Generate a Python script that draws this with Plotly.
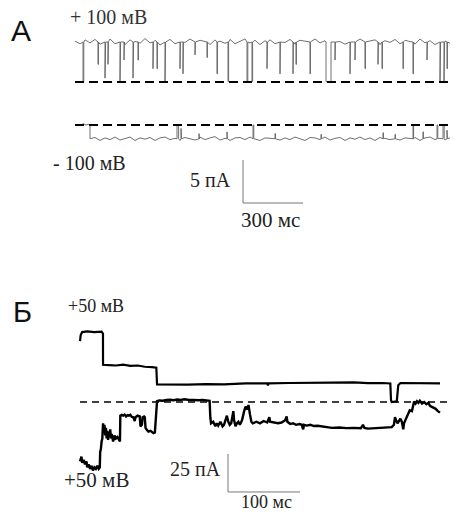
import plotly.graph_objects as go

W, H = 457, 515

# ---------------- Panel A data (ms, pA) ----------------
a_plus_open = 4.65          # open level at +100 mV (pA, above closed)
a_plus_t0, a_plus_step = 0, 25
a_plus_noise = [0.1, -0.2, 0.25, -0.1, 0.3, -0.25, 0.15, 0.35, -0.2, 0.1, -0.3, 0.25, 0.05, -0.15,
                0.4, -0.1, 0.2, -0.35, 0.1, 0.3, -0.2, 0.15, -0.05, 0.35, -0.25, 0.2, 0.0, -0.3,
                0.25, 0.1, -0.15, 0.3, -0.2, 0.05, 0.35, -0.1, 0.2, -0.3, 0.15, 0.25, -0.2, 0.1,
                -0.05, 0.3, -0.25, 0.2, 0.1, -0.3, 0.35, -0.1, 0.15, -0.2, 0.3, 0.05, -0.25, 0.2,
                -0.1, 0.35, -0.15, 0.1, 0.25, -0.3, 0.15, -0.05, 0.3, -0.2, 0.2, 0.05, -0.25, 0.35,
                -0.1, 0.15, -0.3, 0.2, 0.1, -0.15]
# closures: time (ms), depth (pA), duration (ms)
a_plus_close_t = [40, 115, 150, 165, 225, 245, 290, 315, 390, 410, 450, 525, 540, 600, 660, 710,
                  765, 860, 885, 960, 1025, 1090, 1105, 1175, 1255, 1300, 1375, 1400, 1450, 1515,
                  1535, 1640, 1690, 1760, 1825, 1845, 1860]
a_plus_close_d = [4.6, 2.6, 4.2, 2.6, 4.6, 2.1, 4.2, 2.1, 3.1, 3.1, 4.6, 3.1, 3.7, 1.5, 1.8, 3.7,
                  4.6, 4.6, 4.6, 3.1, 3.7, 3.7, 2.6, 3.7, 4.6, 2.1, 3.7, 2.1, 3.1, 2.6,
                  3.1, 3.1, 3.7, 2.1, 4.6, 4.6, 3.1]
a_plus_close_w = [4, 2, 3, 2, 3, 2, 3, 2, 2, 2, 3, 2, 2, 2, 2, 2,
                  3, 4, 3, 2, 2, 2, 2, 2, 25, 2, 2, 2, 2, 2,
                  2, 2, 2, 2, 3, 3, 2]

a_minus_open = -1.6
a_minus_pre_t = [10, 25, 40, 55, 70, 75]
a_minus_pre_i = [0.1, -0.1, 0.15, 0.0, 0.1, 0.0]
a_minus_t0, a_minus_step = 75, 25
a_minus_noise = [0.0, 0.15, -0.2, 0.1, -0.1, 0.2, -0.15, 0.05, 0.2, -0.2, 0.1, -0.05, 0.15, -0.2,
                 0.1, 0.2, -0.1, 0.05, -0.2, 0.15, 0.0, -0.15, 0.2, -0.1, 0.1, 0.25, -0.15, 0.05,
                 -0.2, 0.1, 0.15, -0.1, 0.2, -0.05, -0.2, 0.1, 0.05, 0.2, -0.15, 0.1, -0.1, 0.2,
                 0.0, -0.2, 0.15, 0.1, -0.1, 0.2, -0.15, 0.05, 0.15, -0.2, 0.1, -0.05, 0.2, -0.1,
                 0.1, -0.2, 0.15, 0.05, -0.1, 0.2, -0.15, 0.1, 0.0, 0.15, -0.2, 0.1, 0.2, -0.1,
                 0.05, -0.15, 0.1]
a_minus_close_t = [510, 530, 620, 760, 890, 1000, 1230, 1540, 1600, 1690, 1740, 1810, 1840, 1860]
a_minus_close_d = [1.6, 1.2, 0.6, 0.8, 1.6, 0.6, 0.5, 0.7, 0.5, 1.6, 0.8, 1.6, 1.6, 1.0]
a_minus_close_w = [8, 3, 2, 2, 4, 2, 2, 2, 2, 3, 2, 4, 6, 2]

a_base_t = [0, 1875]
a_scale_t, a_scale_i = 300, 5      # ms, pA

# ---------------- Panel B data (ms, pA) ----------------
b_up_t = [0, 1, 3, 10, 20, 30, 31.9, 32, 40, 50, 60, 70, 80, 90, 100, 106, 107, 130, 150, 175, 200,
          230, 260, 261, 262, 290, 320, 350, 380, 400, 420, 431, 432, 433, 440, 441, 442, 445, 460,
          480, 500]
b_up_i = [40, 44, 46, 46.5, 46, 46.3, 45, 24.5, 24.3, 24, 24.6, 23.8, 24, 23.2, 23, 22.6, 11.5, 11.3,
          11.4, 11.8, 11.6, 12.2, 12.3, 11, 12.3, 12.5, 12.8, 12.7, 12.9, 12.4, 12.5, 12.2, 1, 0,
          0.5, 6, 11, 12.5, 12.5, 12.6, 12.3]

b_lo_t = [0, 2, 3, 5, 7, 9, 10, 12, 14, 16, 18, 20, 22, 24, 26, 27.5, 28, 29, 30, 31, 32, 33, 34, 35,
          36, 37, 38, 39, 40, 41, 42, 43, 44, 45, 46, 48, 50, 52, 54, 55.5, 56, 58, 60, 62, 64, 66,
          68, 70, 72, 74, 76, 77, 80, 83, 84, 86, 87, 89, 90, 91, 93, 95, 98, 100, 102, 104, 105,
          106, 107, 110, 115, 120, 125, 130, 135, 140, 145, 150, 155, 160, 165, 170, 175, 180, 181,
          182, 185, 188, 190, 192, 195, 198, 200, 202, 204, 206, 208, 210, 212, 213, 214, 216, 218,
          220, 222, 225, 228, 230, 232, 234, 236, 238, 240, 245, 250, 255, 260, 263, 264, 270, 275,
          280, 285, 287, 288, 292, 296, 300, 305, 308, 310, 311, 315, 320, 325, 330, 335, 340, 350,
          360, 370, 380, 390, 393, 395, 400, 410, 420, 430, 433, 436, 437.5, 439, 441, 443, 445,
          447, 449, 450, 453, 456, 458, 461, 463, 464, 466, 468, 470, 472, 475, 478, 481, 484, 486,
          490, 494, 497, 500]
b_lo_i = [-39, -36, -40, -38, -41, -39, -43, -41, -44, -42, -45, -43, -44, -42, -44, -43, -33, -31,
          -26, -24, -14, -18, -15, -22, -17, -24, -19, -25, -20, -23, -18, -24, -21, -25, -26, -22,
          -24, -23, -25, -26, -9, -8.5, -9, -8.3, -9.5, -8.6, -9, -8.5, -9.8, -10, -12.5, -10, -9,
          -9.5, -16, -15, -10, -9.5, -10, -17, -18.5, -19.5, -19, -20, -20.5, -20, -12, -2, 0.5, 1,
          0.8, 1.3, 1.5, 1.2, 1.6, 1.4, 1.8, 1.5, 1.3, 1.6, 1.2, 1.4, 1, 0.8, -10, -14, -13, -16,
          -14, -15.5, -13, -16, -15, -11, -9, -13, -15, -14, -8, -6, -12, -16, -14, -13, -15, -12,
          -6, -3, -5, -2, -8, -13, -14, -13, -14, -12.5, -13.5, -10, -13, -13.5, -14, -13.5, -12,
          -9.5, -13, -14.5, -14, -15, -14.5, -15, -18, -15, -15.5, -15, -15.8, -15.6, -16, -16.5,
          -17, -16.8, -17.2, -17, -17.3, -15, -17, -17.5, -17.3, -17, -17, -16.5, -15, -10, -12,
          -14, -12.5, -11, -13, -18, -14, -11, -7, -5.5, -6, -2, 0.3, -1, 0.5, -0.5, 0.8, -1, 0,
          -1.5, -0.5, -2.5, -3.5, -4.5, -6, -7]

b_base_t = [0, 510]
b_scale_t, b_scale_i = 100, 25     # ms, pA

# ---------------- layout helpers (pixel geometry of the page) ----------------
def yrange(px_zero, px_per_unit):
    return [(px_zero - H) / px_per_unit, px_zero / px_per_unit]

def xrange(px_zero, px_per_unit):
    return [-px_zero / px_per_unit, (W - px_zero) / px_per_unit]

def px(x):
    return x / W

def py(y):
    return 1 - y / H


def build(t0, step, base, noise, ct, cd, cw, sign):
    pts = []
    for k, n in enumerate(noise):
        t = t0 + step * k
        if any(c <= t <= c + w for c, w in zip(ct, cw)):
            continue
        pts.append((t, 0, base + n))
    for c, d, w in zip(ct, cd, cw):
        pts += [(c, 1, base), (c, 2, base + sign * d), (c + w, 3, base + sign * d), (c + w, 4, base)]
    pts.sort(key=lambda p: (p[0], p[1]))
    return [p[0] for p in pts], [p[2] for p in pts]


fig = go.Figure()

trace_grey = "#606060"
# Panel A, +100 mV
xs, ys = build(a_plus_t0, a_plus_step, a_plus_open, a_plus_noise,
               a_plus_close_t, a_plus_close_d, a_plus_close_w, -1)
fig.add_trace(go.Scatter(x=xs, y=ys, mode="lines", line=dict(color=trace_grey, width=0.9),
                         xaxis="x", yaxis="y"))
fig.add_trace(go.Scatter(x=a_base_t, y=[0, 0], mode="lines",
                         line=dict(color="black", width=2, dash="9px,5px"), xaxis="x", yaxis="y"))
# Panel A, -100 mV
xs, ys = build(a_minus_t0, a_minus_step, a_minus_open, a_minus_noise,
               a_minus_close_t, a_minus_close_d, a_minus_close_w, 1)
xs = a_minus_pre_t + xs
ys = a_minus_pre_i + ys
fig.add_trace(go.Scatter(x=xs, y=ys, mode="lines", line=dict(color=trace_grey, width=0.9),
                         xaxis="x", yaxis="y2"))
fig.add_trace(go.Scatter(x=a_base_t, y=[0, 0], mode="lines",
                         line=dict(color="black", width=2, dash="9px,5px"), xaxis="x", yaxis="y2"))
# Panel A scale bar
a_bar_t0, a_bar_i0 = 840, -9.07
fig.add_trace(go.Scatter(x=[a_bar_t0, a_bar_t0, a_bar_t0 + a_scale_t],
                         y=[a_bar_i0 + a_scale_i, a_bar_i0, a_bar_i0], mode="lines",
                         line=dict(color="#777", width=1), xaxis="x", yaxis="y2"))

# Panel B
fig.add_trace(go.Scatter(x=b_base_t, y=[0, 0], mode="lines",
                         line=dict(color="black", width=1.5, dash="7px,5px"), xaxis="x2", yaxis="y3"))
fig.add_trace(go.Scatter(x=b_up_t, y=b_up_i, mode="lines", line=dict(color="black", width=2.2),
                         xaxis="x2", yaxis="y3"))
fig.add_trace(go.Scatter(x=b_lo_t, y=b_lo_i, mode="lines", line=dict(color="black", width=2.4),
                         xaxis="x2", yaxis="y3"))
b_bar_t0, b_bar_i0 = 205.6, -59.2
fig.add_trace(go.Scatter(x=[b_bar_t0, b_bar_t0, b_bar_t0 + b_scale_t],
                         y=[b_bar_i0 + b_scale_i, b_bar_i0, b_bar_i0], mode="lines",
                         line=dict(color="#777", width=1), xaxis="x2", yaxis="y3"))

ax_common = dict(visible=False, domain=[0, 1], fixedrange=True)
fig.update_layout(
    width=W, height=H, margin=dict(l=0, r=0, t=0, b=0),
    paper_bgcolor="white", plot_bgcolor="white", showlegend=False,
    xaxis=dict(range=xrange(75, 1 / 5), anchor="y", **ax_common),
    xaxis2=dict(range=xrange(80, 0.72), anchor="y3", overlaying="x", **ax_common),
    yaxis=dict(range=yrange(82, 8.6), anchor="x", **ax_common),
    yaxis2=dict(range=yrange(125, 8.6), anchor="x", overlaying="y", **ax_common),
    yaxis3=dict(range=yrange(402, 1.52), anchor="x2", overlaying="y", **ax_common),
)

serif = "Liberation Serif"
sans = "Liberation Sans"
labels = [
    ("А", 21, 31, sans, 30, "#111"),
    ("+ 100 мВ", 108, 17, serif, 20, "#333"),
    ("- 100 мВ", 89, 163, serif, 20, "#222"),
    ("5 пА", 210, 180, serif, 20, "#222"),
    ("300 мс", 270, 220, serif, 21, "#222"),
    ("Б", 22, 312, sans, 29, "#111"),
    ("+50 мВ", 96, 306, serif, 18, "#222"),
    ("+50 мВ", 96, 480, serif, 21, "#222"),
    ("25 пА", 195, 469, serif, 20, "#222"),
    ("100 мс", 266, 502, serif, 18, "#222"),
]
for text, x, y, fam, size, col in labels:
    fig.add_annotation(text=text, x=px(x), y=py(y), xref="paper", yref="paper",
                       showarrow=False, xanchor="center", yanchor="middle",
                       font=dict(family=fam, size=size, color=col))

fig.write_html("out.html", config={"displayModeBar": False, "staticPlot": True},
               post_script="document.body.style.margin='0';document.body.style.overflow='hidden';")
